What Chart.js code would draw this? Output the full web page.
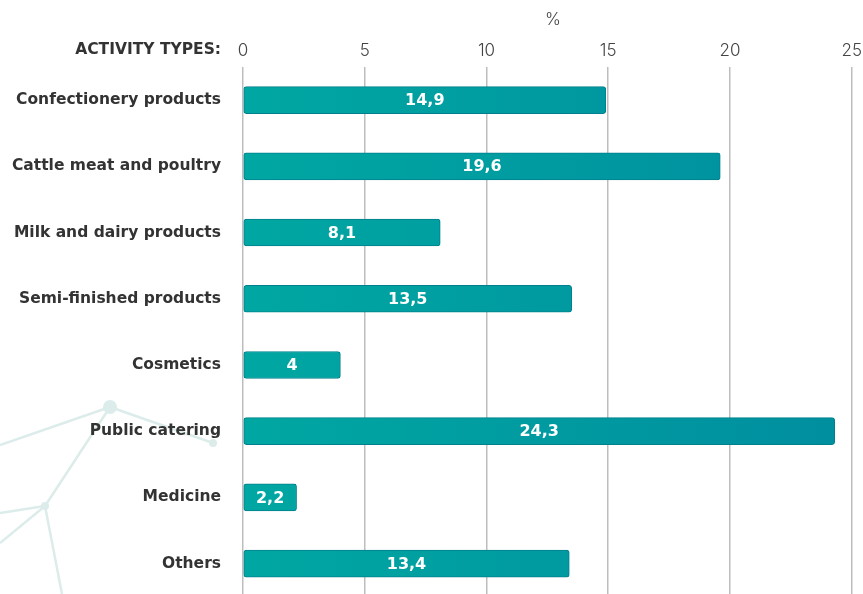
<!DOCTYPE html>
<html>
<head>
<meta charset="utf-8">
<script src="https://cdn.jsdelivr.net/npm/chart.js@4"></script>
<style>
  html, body { margin: 0; padding: 0; background: #fff; overflow: hidden; }
  #wrap { width: 868px; height: 628px; }
</style>
</head>
<body>
<div id="wrap"><canvas id="activityChart"></canvas></div>
<script>
'use strict'

var categories = ['Confectionery products', 'Cattle meat and poultry', 'Milk and dairy products',
    'Semi-finished products', 'Cosmetics', 'Public catering', 'Medicine', 'Others']
var shares = [14.9, 19.6, 8.1, 13.5, 4, 24.3, 2.2, 13.4]
var xTicks = [0, 5, 10, 15, 20, 25]

var FONT = 'Inter, "Open Sans", sans-serif'
var BOLD = '"DejaVu Sans", Inter, sans-serif'

// decorative network lines behind the chart
var backdrop = {
    id: 'backdrop',
    beforeDraw: function (chart) {
        var ctx = chart.ctx
        ctx.save()
        ctx.strokeStyle = '#dcecea'
        ctx.fillStyle = '#dcecea'
        ctx.lineWidth = 2.5
        var segs = [
            [0, 445, 110, 407], [110, 407, 213, 443], [110, 407, 45, 506],
            [45, 506, 0, 513], [45, 506, 0, 543], [45, 506, 62, 594]
        ]
        segs.forEach(function (s) {
            ctx.beginPath(); ctx.moveTo(s[0], s[1]); ctx.lineTo(s[2], s[3]); ctx.stroke()
        })
        ;[[110, 407, 7], [213, 443, 4], [45, 506, 4]].forEach(function (p) {
            ctx.beginPath(); ctx.arc(p[0], p[1], p[2], 0, Math.PI * 2); ctx.fill()
        })
        ctx.restore()
    }
}

// "ACTIVITY TYPES:" header, "%" unit + value labels in bars
var labels = {
    id: 'labels',
    afterDatasetsDraw: function (chart) {
        var ctx = chart.ctx
        var y = chart.scales.y
        ctx.save()
        ctx.textBaseline = 'middle'
        ctx.font = 'bold 15.5px ' + BOLD
        ctx.fillStyle = '#333'
        ctx.textAlign = 'right'
        ctx.fillText('ACTIVITY TYPES:', y.right - 22, 50)

        ctx.font = '300 17px ' + FONT
        ctx.fillStyle = '#444'
        ctx.textAlign = 'center'
        ctx.fillText('%', 553, 20)

        ctx.font = 'bold 16px ' + BOLD
        ctx.fillStyle = '#fff'
        chart.getDatasetMeta(0).data.forEach(function (bar, i) {
            var cx = (bar.base + bar.x) / 2
            ctx.fillText(String(shares[i]).replace('.', ','), cx, bar.y + 1)
        })
        ctx.restore()
    }
}

var ctx = document.getElementById('activityChart').getContext('2d')

function barGradient(context) {
    var chart = context.chart
    var area = chart.chartArea
    if (!area) return '#00a0a0'
    var el = context.element
    var x0 = el && el.base !== undefined ? el.base : area.left
    var x1 = el && el.x !== undefined ? el.x : area.right
    if (!isFinite(x0) || !isFinite(x1) || x1 - x0 < 1) return '#00a0a0'
    var g = chart.ctx.createLinearGradient(x0, 0, x1, 0)
    g.addColorStop(0, '#00a7a2')
    g.addColorStop(1, '#008e9f')
    return g
}

var activityChart = new Chart(ctx, {
    type: 'bar',
    data: {
        labels: categories,
        datasets: [{
            data: shares,
            backgroundColor: barGradient,
            borderColor: '#00808c',
            borderWidth: 1,
            borderRadius: 3,
            borderSkipped: false,
            barThickness: 27
        }]
    },
    options: {
        indexAxis: 'y',
        responsive: true,
        maintainAspectRatio: false,
        animation: false,
        layout: { padding: { right: 3, top: 0, bottom: 0, left: 0 } },
        plugins: {
            legend: { display: false },
            tooltip: { enabled: false }
        },
        scales: {
            x: {
                position: 'top',
                min: 0,
                max: 25,
                afterBuildTicks: function (scale) {
                    scale.ticks = xTicks.map(function (v) { return { value: v } })
                },
                afterFit: function (scale) { scale.height = 67 },
                ticks: {
                    color: '#444',
                    padding: 6,
                    font: { family: FONT, size: 17, weight: 300 }
                },
                grid: {
                    drawTicks: false,
                    color: '#bdbdbd',
                    lineWidth: 1.5
                },
                border: { display: false }
            },
            y: {
                afterFit: function (scale) { scale.width = 243 },
                ticks: {
                    color: '#333',
                    padding: 22,
                    font: { family: BOLD, size: 15.5, weight: 'bold' }
                },
                grid: { display: false, drawTicks: false },
                border: { display: false }
            }
        }
    },
    plugins: [backdrop, labels]
})
</script>
</body>
</html>
